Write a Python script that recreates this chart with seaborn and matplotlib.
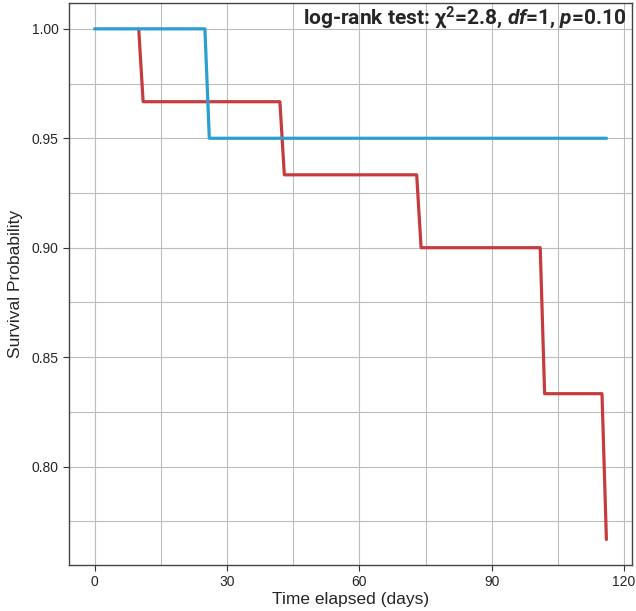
import pandas as pd
import matplotlib.pyplot as plt
import seaborn as sns
from matplotlib.ticker import MultipleLocator

# Survival curves (time in days, survival probability)
blue_days = [0, 25, 26, 116]
blue_surv = [1.0, 1.0, 0.95, 0.95]

red_days = [10, 11, 42, 43, 73, 74, 101, 102, 115, 116]
red_surv = [1.0, 0.9667, 0.9667, 0.9333, 0.9333, 0.9, 0.9, 0.8333, 0.8333, 0.7667]

x_ticks = [0, 30, 60, 90, 120]
y_ticks = [0.80, 0.85, 0.90, 0.95, 1.00]

stat_text = r"log-rank test: χ$^{2}$=2.8, $\mathit{df}$=1, $\mathit{p}$=0.10"

blue_df = pd.DataFrame({"day": blue_days, "surv": blue_surv})
red_df = pd.DataFrame({"day": red_days, "surv": red_surv})

sns.set_style("ticks")
plt.rcParams["font.family"] = ["Liberation Sans", "DejaVu Sans"]
plt.rcParams["mathtext.fontset"] = "custom"
plt.rcParams["mathtext.it"] = "Roboto:italic:bold"
plt.rcParams["mathtext.rm"] = "Roboto:bold"

fig, ax = plt.subplots(figsize=(6.36, 6.11), dpi=100)
fig.subplots_adjust(left=0.1085, right=0.9937, top=0.9946, bottom=0.0753)

sns.lineplot(data=red_df, x="day", y="surv", ax=ax, color="#c43c3e",
             linewidth=2.3, sort=False, estimator=None)
sns.lineplot(data=blue_df, x="day", y="surv", ax=ax, color="#2a9fd0",
             linewidth=2.3, sort=False, estimator=None)

ax.set_xticks(x_ticks)
ax.set_yticks(y_ticks)
ax.set_yticklabels([f"{v:.2f}" for v in y_ticks])
ax.xaxis.set_minor_locator(MultipleLocator(15))
ax.yaxis.set_minor_locator(MultipleLocator(0.025))
ax.tick_params(which="minor", length=0)
ax.tick_params(which="major", length=4, labelsize=10, color="#333333")
ax.grid(True, which="both", color="#bdbdbd", linewidth=0.8)
ax.set_axisbelow(True)
for s in ax.spines.values():
    s.set_color("#444444")
    s.set_linewidth(1.0)

ax.set_xlabel("Time elapsed (days)", fontsize=12.5, labelpad=2)
ax.set_ylabel("Survival Probability", fontsize=12.5, labelpad=6)

ax.text(0.99, 0.998, stat_text, transform=ax.transAxes, ha="right", va="top",
        fontsize=15, fontweight="bold", family=["Roboto", "DejaVu Sans"])

fig.savefig("out.png", dpi=100)
